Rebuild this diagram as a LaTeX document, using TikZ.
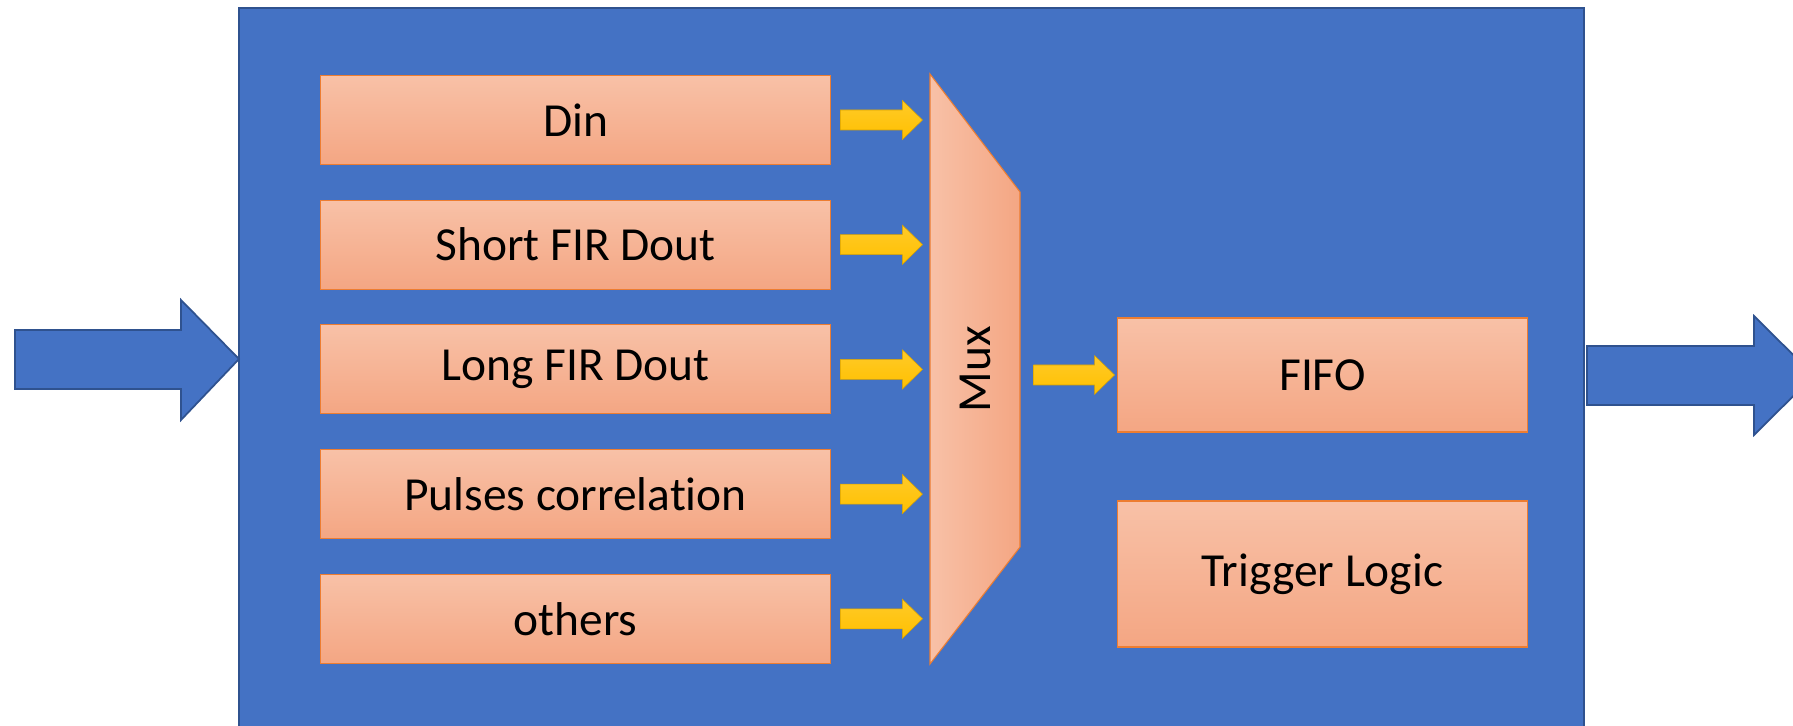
\documentclass[tikz,border=0pt]{standalone}
\usepackage{fontspec}
\setmainfont{Carlito}[Ligatures=NoCommon,RawFeature={-clig;-dlig}]
\usepackage{tikz}
\usetikzlibrary{positioning}

\definecolor{boardblue}{HTML}{4472C4}
\definecolor{boardedge}{HTML}{2F528F}
\definecolor{boxtop}{HTML}{F8C1A7}
\definecolor{boxbot}{HTML}{F4A683}
\definecolor{boxedge}{HTML}{ED7D31}
\definecolor{goldtop}{HTML}{FFCA28}
\definecolor{goldbot}{HTML}{FFC000}
\definecolor{goldedge}{HTML}{D9A200}

\begin{document}
\begin{tikzpicture}[x=0.02cm,y=-0.02cm,
  blk/.style={draw=boxedge,line width=0.6pt,top color=boxtop,bottom color=boxbot,
              minimum width=10.22cm,minimum height=1.78cm,inner sep=0pt,
              font=\fontsize{27}{32}\selectfont},
  bigarr/.style={fill=boardblue,draw=boardedge,line width=1pt,line join=miter},
  yarr/.style={top color=goldtop,bottom color=goldbot,draw=goldedge,line width=0.3pt}]

  \useasboundingbox (0,0) rectangle (1793,726);

  % board and the wide in/out arrows
  \draw[fill=boardblue,draw=boardedge,line width=0.6pt] (239,8) rectangle (1584,746);
  \draw[bigarr] (15,330) -- (181,330) -- (181,300) -- (239,359)
                -- (181,420) -- (181,389) -- (15,389) -- cycle;
  \draw[bigarr] (1587,346) -- (1754,346) -- (1754,316) -- (1814,375.5)
                -- (1754,435) -- (1754,405) -- (1587,405) -- cycle;

  % data sources
  \node[blk] (din)  at (575.5,120)   {Din};
  \node[blk] (sfir) at (575.5,244.7) {Short FIR Dout};
  \node[blk] (lfir) at (575.5,369.4) {Long FIR Dout};
  \node[blk] (pcor) at (575.5,494.1) {Pulses correlation};
  \node[blk] (oth)  at (575.5,618.8) {others};

  % mux
  \draw[draw=boxedge,line width=0.6pt,left color=boxtop,right color=boxbot]
    (930,74) -- (1020,192) -- (1020,547) -- (930,664) -- cycle;
  \node[rotate=90,font=\fontsize{27}{32}\selectfont] (mux) at (975,369) {Mux};

  \node[blk,minimum width=8.22cm,minimum height=2.28cm] (fifo) at (1322.5,375) {FIFO};
  \node[blk,minimum width=8.22cm,minimum height=2.92cm] (trig) at (1322.5,574) {Trigger Logic};

  % sources into mux
  \foreach \b in {din,sfir,lfir,pcor,oth}
    \draw[yarr,shift={(\b.east)}] (9,-10) -- (71,-10) -- (71,-19.5) -- (91,0)
      -- (71,19.5) -- (71,10) -- (9,10) -- cycle;

  % mux out to fifo
  \draw[yarr,shift={(fifo.west)}] (-83,-10) -- (-22,-10) -- (-22,-19.5) -- (-2,0)
    -- (-22,19.5) -- (-22,10) -- (-83,10) -- cycle;

\end{tikzpicture}
\end{document}
